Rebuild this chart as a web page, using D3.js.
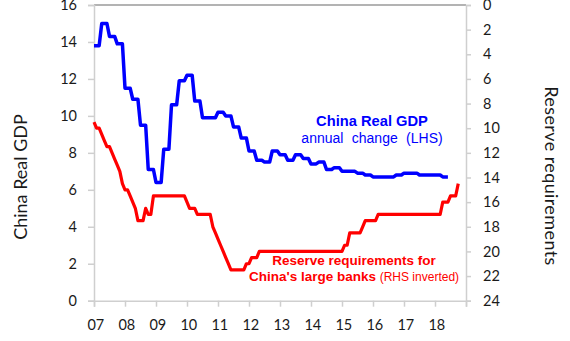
<!DOCTYPE html>
<html>
<head>
<meta charset="utf-8">
<script src="https://cdn.jsdelivr.net/npm/d3@7"></script>
<style>
  body { margin: 0; background: #fff; }
  .tick_label { font-family: Lato, "Open Sans", sans-serif; font-size: 14.5px; fill: #1a1a1a; }
  .axis_title { font-family: Lato, "Open Sans", sans-serif; font-size: 18px; fill: #1a1a1a; }
  .note { font-family: "Liberation Sans", Arial, sans-serif; }
</style>
</head>
<body>
<div id="chart"></div>
<script>
var year_labels = ["07", "08", "09", "10", "11", "12", "13", "14", "15", "16", "17", "18"]
var gdp_ticks = [0, 2, 4, 6, 8, 10, 12, 14, 16]
var rrr_ticks = [0, 2, 4, 6, 8, 10, 12, 14, 16, 18, 20, 22, 24]

// China real GDP, % y/y, quarterly from 2007 Q1
var gdp_quarterly = [
  13.8, 15.0, 14.3, 13.9,
  11.5, 10.9, 9.5, 7.1,
  6.4, 8.2, 10.6, 11.9,
  12.2, 10.8, 9.9, 9.9,
  10.2, 10.0, 9.4, 8.8,
  8.1, 7.6, 7.5, 8.1,
  7.9, 7.6, 7.9, 7.7,
  7.4, 7.5, 7.1, 7.2,
  7.0, 7.0, 6.9, 6.8,
  6.7, 6.7, 6.7, 6.8,
  6.9, 6.9, 6.8, 6.8,
  6.8, 6.7
]

// Reserve requirement ratio for large banks, %, monthly from Jan 2007
var rrr_monthly = [
  9.5, 10.0, 10.0, 10.5, 11.0, 11.5, 11.5, 12.0, 12.5, 13.0, 13.5, 14.5,
  15.0, 15.0, 15.5, 16.0, 16.5, 17.5, 17.5, 17.5, 16.5, 17.0, 17.0, 15.5,
  15.5, 15.5, 15.5, 15.5, 15.5, 15.5, 15.5, 15.5, 15.5, 15.5, 15.5, 15.5,
  16.0, 16.5, 16.5, 16.5, 17.0, 17.0, 17.0, 17.0, 17.0, 17.0, 18.0, 18.5,
  19.0, 19.5, 20.0, 20.5, 21.0, 21.5, 21.5, 21.5, 21.5, 21.5, 21.5, 21.0,
  21.0, 20.5, 20.5, 20.5, 20.0, 20.0, 20.0, 20.0, 20.0, 20.0, 20.0, 20.0,
  20.0, 20.0, 20.0, 20.0, 20.0, 20.0, 20.0, 20.0, 20.0, 20.0, 20.0, 20.0,
  20.0, 20.0, 20.0, 20.0, 20.0, 20.0, 20.0, 20.0, 20.0, 20.0, 20.0, 20.0,
  20.0, 19.5, 19.5, 18.5, 18.5, 18.5, 18.5, 18.5, 18.0, 17.5, 17.5, 17.5,
  17.5, 17.5, 17.0, 17.0, 17.0, 17.0, 17.0, 17.0, 17.0, 17.0, 17.0, 17.0,
  17.0, 17.0, 17.0, 17.0, 17.0, 17.0, 17.0, 17.0, 17.0, 17.0, 17.0, 17.0,
  17.0, 17.0, 17.0, 16.0, 16.0, 16.0, 15.5, 15.5, 15.5, 14.5
]

var width = 570, height = 341
var plot = { left: 94, right: 466, top: 5, bottom: 300.7 }

var svg = d3.select("#chart").append("svg")
  .attr("width", width)
  .attr("height", height)

// months since Jan 2007
var x = d3.scaleLinear().domain([0, 144]).range([plot.left, plot.right])
var y_gdp = d3.scaleLinear().domain([0, 16]).range([plot.bottom, plot.top])
var y_rrr = d3.scaleLinear().domain([0, 24]).range([plot.top, plot.bottom])

// frame
svg.append("line")
  .attr("x1", plot.left).attr("x2", plot.right)
  .attr("y1", plot.top).attr("y2", plot.top)
  .attr("stroke", "#9a9a9a").attr("stroke-width", 1.3)

var axis_colour = "#cfcfcf"

var left_axis = svg.append("g")
  .attr("transform", "translate(" + plot.left + ",0)")
  .call(d3.axisLeft(y_gdp).tickValues(gdp_ticks).tickSize(6).tickPadding(11))
var right_axis = svg.append("g")
  .attr("transform", "translate(" + plot.right + ",0)")
  .call(d3.axisRight(y_rrr).tickValues(rrr_ticks).tickSize(5).tickPadding(12))
var bottom_axis = svg.append("g")
  .attr("transform", "translate(0," + plot.bottom + ")")
  .call(d3.axisBottom(x).tickValues(d3.range(0, 145, 12)).tickSize(6).tickFormat(""))

;[left_axis, right_axis, bottom_axis].forEach(function (g) {
  g.select(".domain").attr("stroke", axis_colour).attr("stroke-width", 1.5)
  g.selectAll(".tick line").attr("stroke", axis_colour).attr("stroke-width", 1.5)
  g.selectAll(".tick text").attr("class", "tick_label").attr("font-size", null).attr("font-family", null)
})

bottom_axis.selectAll(".year_label")
  .data(year_labels)
  .enter().append("text")
  .attr("class", "tick_label")
  .attr("x", function (d, i) { return x(i * 12) + 1.8 })
  .attr("y", 29.5)
  .attr("text-anchor", "middle")
  .text(function (d) { return d })

// axis titles
svg.append("text")
  .attr("class", "axis_title")
  .attr("transform", "translate(27,177) rotate(-90)")
  .attr("text-anchor", "middle")
  .text("China Real GDP")

svg.append("text")
  .attr("class", "axis_title")
  .attr("transform", "translate(545,176) rotate(90)")
  .attr("text-anchor", "middle")
  .attr("letter-spacing", 0.4)
  .text("Reserve requirements")

// GDP as quarterly steps
var gdp_points = []
gdp_quarterly.forEach(function (v, q) {
  gdp_points.push([q * 3, v])
  gdp_points.push([q * 3 + 2, v])
})

var gdp_line = d3.line()
  .x(function (d) { return x(d[0]) })
  .y(function (d) { return y_gdp(d[1]) })

var rrr_line = d3.line()
  .x(function (d, i) { return x(i) })
  .y(function (d) { return y_rrr(d) })

svg.append("path")
  .attr("d", rrr_line(rrr_monthly))
  .attr("fill", "none")
  .attr("stroke", "#ff0000")
  .attr("stroke-width", 3.2)
  .attr("stroke-linejoin", "round")

svg.append("path")
  .attr("d", gdp_line(gdp_points))
  .attr("fill", "none")
  .attr("stroke", "#0000ff")
  .attr("stroke-width", 3.5)
  .attr("stroke-linejoin", "round")

// annotations
var blue_note = svg.append("text")
  .attr("class", "note")
  .attr("fill", "#0000ff")
  .attr("text-anchor", "middle")
blue_note.append("tspan")
  .attr("x", 372).attr("y", 126)
  .attr("font-size", 14.7).attr("font-weight", "bold")
  .text("China Real GDP")
blue_note.append("tspan")
  .attr("x", 372).attr("y", 142.5)
  .attr("font-size", 14).attr("word-spacing", 4.5)
  .text("annual change (LHS)")

var red_note = svg.append("text")
  .attr("class", "note")
  .attr("fill", "#ff0000")
  .attr("text-anchor", "middle")
red_note.append("tspan")
  .attr("x", 354).attr("y", 265)
  .attr("font-size", 13.5).attr("font-weight", "bold")
  .text("Reserve requirements for")
var red_line2 = red_note.append("tspan")
  .attr("x", 354).attr("y", 280.5)
red_line2.append("tspan")
  .attr("font-size", 13.5).attr("font-weight", "bold")
  .text("China's large banks ")
red_line2.append("tspan")
  .attr("font-size", 12)
  .text("(RHS inverted)")
</script>
</body>
</html>
